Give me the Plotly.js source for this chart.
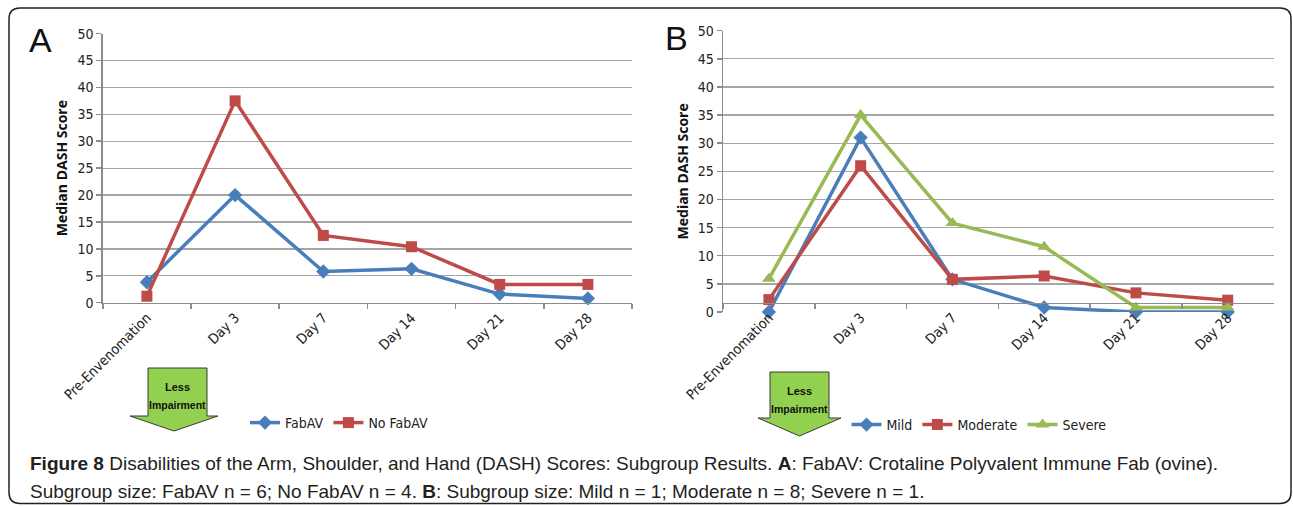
<!DOCTYPE html>
<html><head><meta charset="utf-8">
<script src="https://cdn.plot.ly/plotly-3.0.1.min.js"></script>
<style>html,body{margin:0;padding:0;background:#fff;}#chart{width:1293px;height:506px;}</style>
</head><body><div id="chart"></div>
<script>
// ---- data ----
const categories = ['Pre-Envenomation', 'Day 3', 'Day 7', 'Day 14', 'Day 21', 'Day 28'];
const fabAV    = [3.8, 20.0, 5.8, 6.3, 1.6, 0.8];
const noFabAV  = [1.2, 37.5, 12.5, 10.4, 3.4, 3.4];
const mild     = [0.0, 31.0, 5.8, 0.8, 0.0, 0.0];
const moderate = [2.2, 26.0, 5.8, 6.4, 3.4, 2.1];
const severe   = [5.9, 35.0, 15.8, 11.6, 0.8, 0.8];
const yTickVals = [0, 5, 10, 15, 20, 25, 30, 35, 40, 45, 50];
const seriesNamesA = ['FabAV', 'No FabAV'];
const seriesNamesB = ['Mild', 'Moderate', 'Severe'];

// ---- helpers ----
const W = 1293, H = 506;
const px = x => x / W;
const py = y => 1 - y / H;
const NARROW = "'Liberation Sans Narrow', 'Arial Narrow', 'DejaVu Sans Condensed', sans-serif";
const BLUE = '#4a7ebb', RED = '#be4b48', GREEN = '#98b954';

function tr(name, y, color, symbol, size, xa, ya, leg) {
  return {
    type: 'scatter', mode: 'lines+markers', name: name,
    x: categories, y: y, xaxis: xa, yaxis: ya, legend: leg,
    line: {color: color, width: 3.5},
    marker: {color: color, symbol: symbol, size: size},
    cliponaxis: false
  };
}

const data = [
  tr(seriesNamesA[0], fabAV, BLUE, 'diamond', 11, 'x', 'y', 'legend'),
  tr(seriesNamesA[1], noFabAV, RED, 'square', 11, 'x', 'y', 'legend'),
  tr(seriesNamesB[0], mild, BLUE, 'diamond', 11, 'x2', 'y2', 'legend2'),
  tr(seriesNamesB[1], moderate, RED, 'square', 11, 'x2', 'y2', 'legend2'),
  tr(seriesNamesB[2], severe, GREEN, 'triangle-up', 12, 'x2', 'y2', 'legend2')
];

function xax(domain) {
  return {
    domain: domain, type: 'category', range: [-0.5, 5.5], fixedrange: true,
    showgrid: false, showline: true, linecolor: '#8c8c8c', linewidth: 1.5,
    ticks: 'outside', tickson: 'boundaries', ticklen: 5, tickcolor: '#8c8c8c', tickwidth: 1.5,
    tickangle: -45, tickfont: {family: NARROW, size: 14, color: '#222'}, zeroline: false
  };
}
function yax(domain, anchor) {
  return {
    domain: domain, anchor: anchor, range: [0, 50], tickvals: yTickVals, fixedrange: true,
    showgrid: true, gridcolor: '#a6a6a6', gridwidth: 1.3,
    showline: true, linecolor: '#8c8c8c', linewidth: 1.5,
    ticks: 'outside', ticklen: 5, tickcolor: '#8c8c8c', tickwidth: 1.5,
    tickfont: {family: NARROW, size: 14, color: '#222'}, zeroline: false,
    title: {text: '<b>Median DASH Score</b>', font: {family: "'Open Sans', sans-serif", size: 14, color: '#111'}, standoff: 6}
  };
}

function arrow(left, right, top, neck, hl, hr, tip) {
  const cx = (hl + hr) / 2;
  return {
    type: 'path', xref: 'paper', yref: 'paper',
    path: `M ${px(left)} ${py(top)} L ${px(right)} ${py(top)} L ${px(right)} ${py(neck)} L ${px(hr)} ${py(neck)} L ${px(cx)} ${py(tip)} L ${px(hl)} ${py(neck)} L ${px(left)} ${py(neck)} Z`,
    fillcolor: '#92d050', line: {color: '#3a3a3a', width: 1}
  };
}

function textAnn(t, x, y, size, family, opts) {
  return Object.assign({
    text: t, x: px(x), y: py(y), xref: 'paper', yref: 'paper', showarrow: false,
    font: {family: family, size: size, color: '#111'}, xanchor: 'center', yanchor: 'middle'
  }, opts || {});
}

const r = 11, L = 9, T = 8, R = 1291, B = 503.5;
const border = {
  type: 'path', xref: 'paper', yref: 'paper', line: {color: '#222', width: 1.5},
  path: `M ${px(L + r)} ${py(T)} L ${px(R - r)} ${py(T)} Q ${px(R)} ${py(T)} ${px(R)} ${py(T + r)} L ${px(R)} ${py(B - r)} Q ${px(R)} ${py(B)} ${px(R - r)} ${py(B)} L ${px(L + r)} ${py(B)} Q ${px(L)} ${py(B)} ${px(L)} ${py(B - r)} L ${px(L)} ${py(T + r)} Q ${px(L)} ${py(T)} ${px(L + r)} ${py(T)} Z`
};

const CAP = "'Liberation Sans', Arial, sans-serif";
const ARROWFONT = "'Liberation Sans', Arial, sans-serif";

const layout = {
  width: W, height: H, margin: {l: 0, r: 0, t: 0, b: 0},
  paper_bgcolor: '#fff', plot_bgcolor: '#fff', showlegend: true,
  xaxis: xax([px(102.8), px(632)]),
  yaxis: yax([py(302.7), py(33.6)], 'x'),
  xaxis2: xax([px(723), px(1273.6)]),
  yaxis2: yax([py(312), py(30.7)], 'x2'),
  legend: {orientation: 'h', x: px(339), y: py(423), xanchor: 'center', yanchor: 'middle',
    font: {family: NARROW, size: 14, color: '#222'}, itemwidth: 30, bgcolor: 'rgba(0,0,0,0)', tracegroupgap: 0},
  legend2: {orientation: 'h', x: px(979), y: py(425), xanchor: 'center', yanchor: 'middle',
    font: {family: NARROW, size: 14, color: '#222'}, itemwidth: 30, bgcolor: 'rgba(0,0,0,0)'},
  shapes: [
    border,
    arrow(148, 207, 368, 416, 130, 218, 431),
    arrow(770, 829, 372, 418, 758, 841, 436)
  ],
  annotations: [
    textAnn('A', 40, 40, 34, "'Liberation Sans', Arial, sans-serif"),
    textAnn('B', 677, 38, 34, "'Liberation Sans', Arial, sans-serif"),
    textAnn('<b>Less</b>', 177.5, 387, 11, ARROWFONT),
    textAnn('<b>Impairment</b>', 177.5, 405, 10.5, ARROWFONT),
    textAnn('<b>Less</b>', 799.5, 391, 11, ARROWFONT),
    textAnn('<b>Impairment</b>', 799.5, 409, 10.5, ARROWFONT),
    textAnn('<b>Figure 8</b> Disabilities of the Arm, Shoulder, and Hand (DASH) Scores: Subgroup Results. <b>A</b>: FabAV: Crotaline Polyvalent Immune Fab (ovine).', 28, 463, 19, CAP, {xanchor: 'left', align: 'left', font: {family: CAP, size: 19, color: '#231f20'}}),
    textAnn('Subgroup size: FabAV n = 6; No FabAV n = 4. <b>B</b>: Subgroup size: Mild n = 1; Moderate n = 8; Severe n = 1.', 28, 491, 19, CAP, {xanchor: 'left', align: 'left', font: {family: CAP, size: 19, color: '#231f20'}})
  ]
};

Plotly.newPlot('chart', data, layout, {staticPlot: true, displayModeBar: false});
</script>
</body></html>
